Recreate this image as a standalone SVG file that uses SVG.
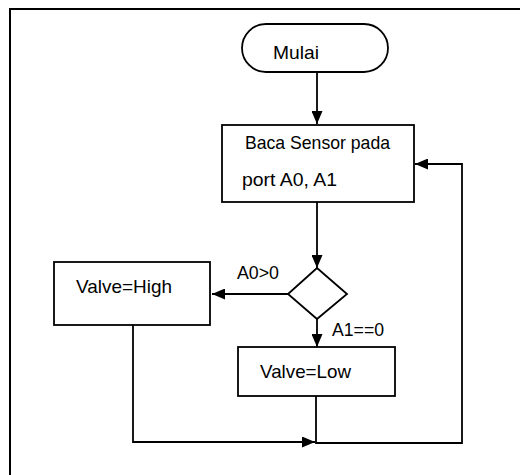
<svg xmlns="http://www.w3.org/2000/svg" width="520" height="475" viewBox="0 0 520 475">
<defs>
<style>
.shape{fill:#fff;stroke:#000;stroke-width:1.8}
.line{fill:none;stroke:#000;stroke-width:1.8}
.frame{fill:none;stroke:#000;stroke-width:2}
text{font-family:"Liberation Sans",Arial,sans-serif;font-size:19px;fill:#000}
.lbl{font-size:18px}
</style>
<marker id="arr" viewBox="0 0 13 11" refX="13" refY="5.5" markerWidth="13" markerHeight="11" markerUnits="userSpaceOnUse" orient="auto">
<path d="M0,0 L13,5.5 L0,11 Z" fill="#000"/>
</marker>
</defs>
<rect width="520" height="475" fill="#fff"/>
<path class="frame" d="M10,475 L10,9 L520,9"/>
<g id="connectors">
<path class="line" d="M317,72 L317,124" marker-end="url(#arr)"/>
<path class="line" d="M317,202 L317,268" marker-end="url(#arr)"/>
<path class="line" d="M288,294 L212,294" marker-end="url(#arr)"/>
<path class="line" d="M317,319 L317,347" marker-end="url(#arr)"/>
<path class="line" d="M133,325 L133,442 L315,442" marker-end="url(#arr)"/>
<path class="line" d="M316,396 L316,443 L462,443 L462,164 L415,164" marker-end="url(#arr)"/>
<text class="lbl" x="237" y="279" textLength="42" lengthAdjust="spacingAndGlyphs">A0&gt;0</text>
<text class="lbl" x="332" y="336" textLength="52" lengthAdjust="spacingAndGlyphs">A1==0</text>
</g>
<g id="mulai">
<rect class="shape" x="242" y="24" width="146" height="48" rx="24" ry="24"/>
<text x="273" y="59" textLength="46" lengthAdjust="spacingAndGlyphs">Mulai</text>
</g>
<g id="baca">
<rect class="shape" x="222" y="125" width="192" height="77"/>
<text x="245" y="149" textLength="145" lengthAdjust="spacingAndGlyphs">Baca Sensor pada</text>
<text x="242" y="186" textLength="95" lengthAdjust="spacingAndGlyphs">port A0, A1</text>
</g>
<g id="decision">
<path class="shape" d="M317,268 L347,294 L317,319 L288,294 Z"/>
</g>
<g id="valve-high">
<rect class="shape" x="54" y="262" width="156" height="63"/>
<text x="76" y="293" textLength="96" lengthAdjust="spacingAndGlyphs">Valve=High</text>
</g>
<g id="valve-low">
<rect class="shape" x="238" y="347" width="157" height="49"/>
<text x="260" y="378" textLength="91" lengthAdjust="spacingAndGlyphs">Valve=Low</text>
</g>
</svg>
